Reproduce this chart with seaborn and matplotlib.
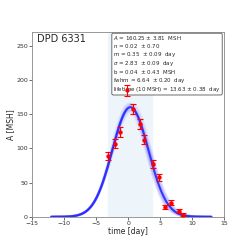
import numpy as np
import pandas as pd
import seaborn as sns
import matplotlib.pyplot as plt

# observed areas of DPD 6331
t_obs = [-3.2, -2.1, -1.2, -0.15, 0.7, 1.9, 2.55, 3.85, 4.9, 5.7, 6.7, 7.9, 8.55]
a_obs = [89, 107, 124, 185, 158, 136, 113, 77, 58, 14, 21, 8, 3]
a_err = [6, 7, 7, 8, 7, 7, 7, 6, 5, 3, 3, 3, 2]

# fit parameters (from the text box)
fit_A, fit_A_err = 160.25, 3.81
fit_m, fit_m_err = 0.35, 0.09
fit_sigma, fit_sigma_err = 2.83, 0.09
fit_b = 0.04
shade_span = (-3.1, 3.7)

info_lines = [
    r"$A$ = 160.25 $\pm$ 3.81  MSH",
    r"n = 0.02  $\pm$ 0.70",
    r"m = 0.35  $\pm$ 0.09  day",
    r"$\sigma$ = 2.83  $\pm$ 0.09  day",
    r"b = 0.04  $\pm$ 0.43  MSH",
    r"fwhm = 6.64  $\pm$ 0.20  day",
    r"lifetime (10 MSH) = 13.63 $\pm$ 0.38  day",
]

sns.set_style("ticks")
fig = plt.figure(figsize=(2.49, 2.49), dpi=100)
ax = fig.add_axes([0.129, 0.129, 0.771, 0.742])

ax.axvspan(*shade_span, color="#eef5fa", zorder=0)


def gauss(t, A, m, s):
    return A * np.exp(-((t - m) ** 2) / (2 * s**2)) + fit_b


# model band: fit curve drawn for a spread of parameter values
t = np.linspace(-12, 13, 300)
for k in np.linspace(-1.5, 1.5, 11):
    for j in (-1, 1):
        y = gauss(t, fit_A + k * fit_A_err, fit_m + j * k * fit_m_err * 2,
                  fit_sigma + j * k * fit_sigma_err)
        sns.lineplot(x=t, y=y, color="blue", alpha=0.03, lw=1.8, ax=ax)
sns.lineplot(x=t, y=gauss(t, fit_A, fit_m, fit_sigma), color="#2020ff",
             alpha=0.85, lw=1.5, ax=ax)

df = pd.DataFrame({"t": t_obs, "a": a_obs, "err": a_err})
ax.errorbar(df.t, df.a, yerr=df.err, fmt="none", ecolor="red",
            elinewidth=0.8, capsize=2, capthick=0.8, zorder=4)
sns.scatterplot(data=df, x="t", y="a", color="red", s=10, edgecolor="red",
                linewidth=0, zorder=5, ax=ax)

ax.set_xlim(-15, 15)
ax.set_ylim(0, 270)
ax.set_xticks([-15, -10, -5, 0, 5, 10, 15])
ax.set_yticks([0, 50, 100, 150, 200, 250])
ax.set_xlabel("time [day]", fontsize=5.5, labelpad=1)
ax.set_ylabel("A [MSH]", fontsize=5.5, labelpad=1)
ax.tick_params(labelsize=4.5, length=2, width=0.5, pad=1, colors="#333333")
for sp in ax.spines.values():
    sp.set_color("#888888")
    sp.set_linewidth(0.6)

ax.text(0.025, 0.965, "DPD 6331", transform=ax.transAxes, fontsize=7,
        ha="left", va="center")
ax.text(0.983, 0.992, "\n".join(info_lines), transform=ax.transAxes,
        fontsize=4.0, ha="right", va="top", multialignment="left",
        linespacing=1.0,
        bbox=dict(boxstyle="round,pad=0.25", fc="white", ec="#555555", lw=0.6))

fig.savefig("out.png", dpi=100)
